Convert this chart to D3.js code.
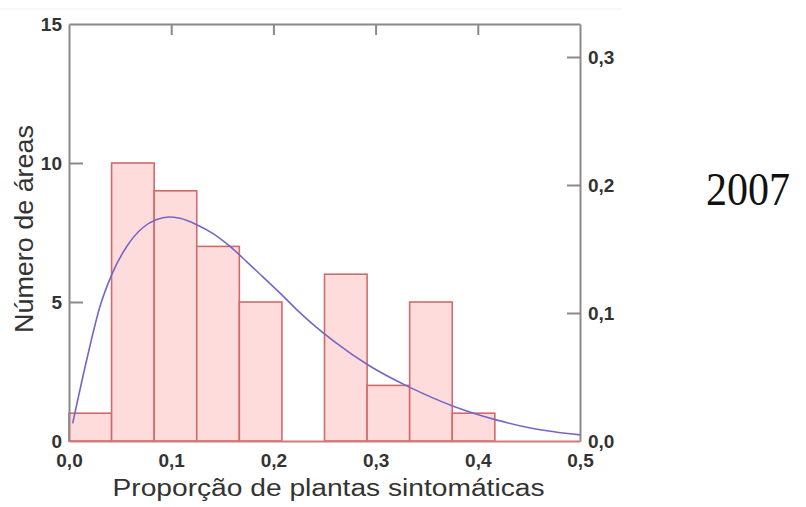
<!DOCTYPE html>
<html>
<head>
<meta charset="utf-8">
<script src="https://cdn.jsdelivr.net/npm/d3@7"></script>
<style>
  body { margin: 0; background: #fff; }
  svg { display: block; }
</style>
</head>
<body>
<div id="chart"></div>
<script>
// histogram counts, 12 bins of width 0.5/12 starting at 0
var binWidth = 0.5 / 12;
var counts = [1, 10, 9, 7, 5, 0, 6, 2, 5, 1, 0, 0];

// fitted density curve (right axis)
var curveX = [0.0036, 0.0173, 0.0303, 0.0418, 0.0565, 0.0727, 0.0858, 0.0972, 0.1086, 0.125, 0.141,
              0.1575, 0.174, 0.190, 0.2065, 0.223, 0.239, 0.260, 0.2935, 0.3346, 0.3767, 0.418, 0.454, 0.5];
var curveY = [0.0138, 0.0633, 0.105, 0.130, 0.152, 0.167, 0.173, 0.175, 0.174, 0.169, 0.162,
              0.152, 0.140, 0.128, 0.1155, 0.1025, 0.091, 0.0775, 0.059, 0.0415, 0.027, 0.0165, 0.0098, 0.0048];

var xTicks = [0, 0.1, 0.2, 0.3, 0.4, 0.5];
var leftTicks = [0, 5, 10, 15];
var rightTicks = [0, 0.1, 0.2, 0.3];

var width = 806, height = 507;
var pLeft = 69, pRight = 580, pTop = 24, pBottom = 441;

var svg = d3.select("#chart").append("svg")
    .attr("width", width)
    .attr("height", height);

var x = d3.scaleLinear().domain([0, 0.5]).range([pLeft, pRight]);
var yCount = d3.scaleLinear().domain([0, 15]).range([pBottom, pTop]);
var yDens = d3.scaleLinear().domain([0, (pBottom - pTop) / 1280]).range([pBottom, pTop]);

var fmt = function(d) { return d3.format(".1f")(d).replace(".", ","); };

// faint line at the top of the scan
svg.append("line")
    .attr("x1", 0).attr("x2", 622).attr("y1", 9).attr("y2", 9)
    .style("stroke", "#efefef").style("stroke-width", 1);

// bars
var bars = counts.map(function(c, i) { return {x0: i * binWidth, x1: (i + 1) * binWidth, n: c}; });
svg.selectAll("rect.bar")
    .data(bars.filter(function(d) { return d.n > 0; }))
    .enter()
    .append("rect")
      .attr("class", "bar")
      .attr("x", function(d) { return x(d.x0); })
      .attr("y", function(d) { return yCount(d.n); })
      .attr("width", function(d) { return x(d.x1) - x(d.x0); })
      .attr("height", function(d) { return yCount(0) - yCount(d.n); })
      .style("fill", "#ffdcdc")
      .style("stroke", "#cf6b6b")
      .style("stroke-width", 1.6);

// left axis
var gLeft = svg.append("g")
    .attr("transform", "translate(" + pLeft + ",0)")
    .call(d3.axisLeft(yCount).tickValues(leftTicks).tickSizeInner(-14).tickSizeOuter(0).tickPadding(7));
gLeft.selectAll(".tick line").filter(function(d) { return d == 0 || d == 15; }).remove();

// right axis
var gRight = svg.append("g")
    .attr("transform", "translate(" + pRight + ",0)")
    .call(d3.axisRight(yDens).tickValues(rightTicks).tickFormat(fmt).tickSizeInner(-13).tickSizeOuter(0).tickPadding(8));
gRight.selectAll(".tick line").filter(function(d) { return d == 0; }).remove();

// top axis (ticks only)
var gTop = svg.append("g")
    .attr("transform", "translate(0," + pTop + ")")
    .call(d3.axisTop(x).tickValues([0.1, 0.2, 0.3, 0.4]).tickFormat("").tickSizeInner(-11).tickSizeOuter(0));

// bottom axis
var gBottom = svg.append("g")
    .attr("transform", "translate(0," + pBottom + ")")
    .call(d3.axisBottom(x).tickValues(xTicks).tickFormat(fmt).tickSize(0).tickPadding(13));

[gLeft, gRight, gTop, gBottom].forEach(function(g) {
  g.select(".domain").style("stroke", "#8a8a8a").style("stroke-width", 2);
  g.selectAll(".tick line").style("stroke", "#8a8a8a").style("stroke-width", 2);
  g.selectAll("text")
    .style("font-family", "'Liberation Sans', Arial, sans-serif")
    .style("font-size", "19px")
    .style("font-weight", "bold")
    .style("fill", "#333");
});
gBottom.select(".domain").style("stroke", "#d47a7a").style("stroke-width", 2);

// density curve
var pts = curveX.map(function(v, i) { return [v, curveY[i]]; });
svg.append("path")
    .datum(pts)
    .attr("d", d3.line()
      .x(function(d) { return x(d[0]); })
      .y(function(d) { return yDens(d[1]); })
      .curve(d3.curveMonotoneX))
    .style("fill", "none")
    .style("stroke", "#7466c9")
    .style("stroke-width", 1.6);

// axis titles
svg.append("text")
    .attr("x", 328.5)
    .attr("y", 496)
    .attr("text-anchor", "middle")
    .attr("textLength", 432)
    .attr("lengthAdjust", "spacingAndGlyphs")
    .style("font-family", "'Liberation Sans', Arial, sans-serif")
    .style("font-size", "23px")
    .style("fill", "#333")
    .text("Proporção de plantas sintomáticas");

svg.append("text")
    .attr("transform", "translate(32.5,229) rotate(-90)")
    .attr("text-anchor", "middle")
    .attr("textLength", 208)
    .attr("lengthAdjust", "spacingAndGlyphs")
    .style("font-family", "'Liberation Sans', Arial, sans-serif")
    .style("font-size", "26px")
    .style("fill", "#333")
    .text("Número de áreas");

// year label
svg.append("text")
    .attr("x", 706)
    .attr("y", 205)
    .attr("textLength", 84)
    .attr("lengthAdjust", "spacingAndGlyphs")
    .style("font-family", "'Liberation Serif', 'Times New Roman', serif")
    .style("font-size", "46px")
    .style("fill", "#111")
    .text("2007");
</script>
</body>
</html>
